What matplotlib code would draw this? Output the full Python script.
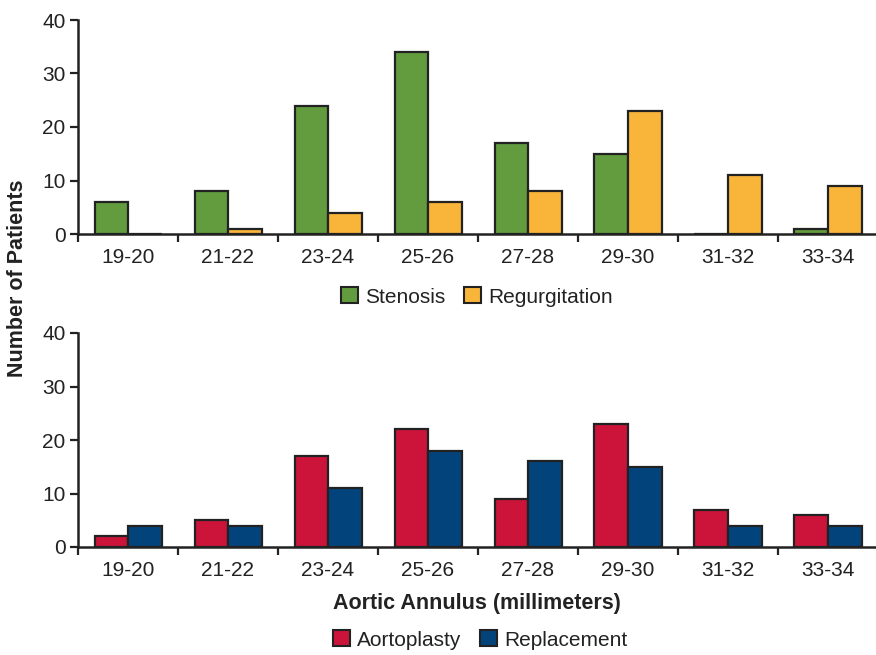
import matplotlib
matplotlib.use("Agg")
import matplotlib.pyplot as plt
import numpy as np
from matplotlib.patches import Patch

plt.rcParams['font.family'] = ['Liberation Sans', 'DejaVu Sans']

categories = ["19-20", "21-22", "23-24", "25-26", "27-28", "29-30", "31-32", "33-34"]
stenosis = [6, 8, 24, 34, 17, 15, 0, 1]
regurgitation = [0, 1, 4, 6, 8, 23, 11, 9]
aortoplasty = [2, 5, 17, 22, 9, 23, 7, 6]
replacement = [4, 4, 11, 18, 16, 15, 4, 4]

c_green = "#639c3f"
c_orange = "#f9b53a"
c_red = "#cc143b"
c_blue = "#03437b"
edge = "#222222"
txt = "#222222"

FS = 15
W, H = 876, 655
fig = plt.figure(figsize=(W / 100, H / 100), dpi=100)

def make_axes(y0px, y40px):
    left = 78 / W
    bottom = 1 - y0px / H
    height = (y0px - y40px) / H
    return fig.add_axes([left, bottom, 1 - left, height])

ax1 = make_axes(234, 20)
ax2 = make_axes(547, 333)

x = np.arange(len(categories))
bw = 0.335

def style(ax, s1, s2, c1, c2):
    ax.bar(x - bw / 2, s1, bw, color=c1, edgecolor=edge, linewidth=1.6, zorder=3)
    ax.bar(x + bw / 2, s2, bw, color=c2, edgecolor=edge, linewidth=1.6, zorder=3)
    ax.set_xlim(-0.5, 7.5 - 2 / 100)
    ax.set_ylim(0, 40)
    ax.set_yticks([0, 10, 20, 30, 40])
    ax.set_xticks(x)
    ax.set_xticklabels(categories)
    ax.set_xticks(np.arange(-0.5, 7.5, 1.0), minor=True)
    ax.tick_params(axis='x', which='major', length=0, pad=10, labelsize=FS, colors=txt)
    ax.tick_params(axis='x', which='minor', length=6, width=1.6, color=edge, direction='out')
    ax.tick_params(axis='y', which='major', length=6, width=1.6, color=edge, direction='out',
                   labelsize=FS, labelcolor=txt, pad=3)
    for s in ['top', 'right']:
        ax.spines[s].set_visible(False)
    for s in ['left', 'bottom']:
        ax.spines[s].set_linewidth(1.8)
        ax.spines[s].set_color(edge)
        ax.spines[s].set_zorder(4)

style(ax1, stenosis, regurgitation, c_green, c_orange)
style(ax2, aortoplasty, replacement, c_red, c_blue)

fig.text(18 / W, 1 - 278 / H, "Number of Patients", rotation=90, ha='center', va='center',
         fontsize=15.5, fontweight='bold', color=txt)
fig.text(477 / W, 1 - 603 / H, "Aortic Annulus (millimeters)", ha='center', va='center',
         fontsize=15.5, fontweight='bold', color=txt)

h1 = [Patch(facecolor=c_green, edgecolor=edge, linewidth=1.5, label="Stenosis"),
      Patch(facecolor=c_orange, edgecolor=edge, linewidth=1.5, label="Regurgitation")]
h2 = [Patch(facecolor=c_red, edgecolor=edge, linewidth=1.5, label="Aortoplasty"),
      Patch(facecolor=c_blue, edgecolor=edge, linewidth=1.5, label="Replacement")]

leg_kw = dict(ncol=2, frameon=False, fontsize=FS, handlelength=0.8, handleheight=0.8,
              handletextpad=0.35, columnspacing=0.9, loc='center')
l1 = fig.legend(handles=h1, bbox_to_anchor=(477 / W, 1 - 297 / H), **leg_kw)
l2 = fig.legend(handles=h2, bbox_to_anchor=(480 / W, 1 - 640 / H), **leg_kw)
for l in (l1, l2):
    for t in l.get_texts():
        t.set_color(txt)

fig.savefig("out.png", dpi=100)
